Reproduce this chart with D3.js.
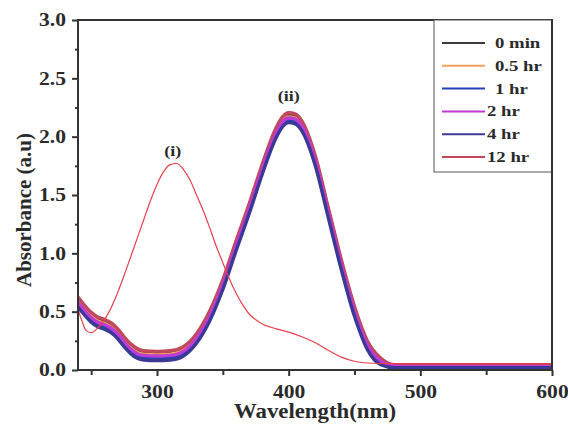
<!DOCTYPE html>
<html>
<head>
<meta charset="utf-8">
<script src="https://cdn.jsdelivr.net/npm/d3@7"></script>
<style>
  body { margin: 0; background: #fff; }
  svg text { font-family: "Liberation Serif", "Times New Roman", serif; font-weight: bold; fill: #2a2a2a; }
</style>
</head>
<body>
<svg id="chart" width="568" height="424"></svg>
<script>
// spectrum (i): thin red curve
const wlA = [240,243,246,250,255,260,265,270,275,280,285,290,295,300,305,310,315,320,325,330,335,340,345,350,355,360,365,370,375,380,390,400,410,420,430,440,450,460,480,600];
const curveA = [0.52,0.42,0.34,0.32,0.36,0.43,0.53,0.66,0.81,0.97,1.13,1.29,1.45,1.59,1.70,1.76,1.77,1.72,1.63,1.50,1.37,1.22,1.06,0.92,0.78,0.66,0.56,0.48,0.43,0.395,0.355,0.325,0.285,0.235,0.17,0.11,0.075,0.06,0.055,0.055];

// spectra (ii): time series
const wlB = [240,245,250,255,260,265,270,275,280,285,290,300,310,320,330,340,350,360,370,380,390,395,400,405,410,420,430,440,450,460,470,480,490,600];
const s0min = [0.61,0.54,0.48,0.44,0.42,0.39,0.34,0.27,0.21,0.165,0.15,0.145,0.15,0.185,0.295,0.485,0.755,1.085,1.405,1.745,2.045,2.145,2.185,2.175,2.115,1.825,1.375,0.925,0.525,0.235,0.095,0.04,0.035,0.035];
const s05hr = [0.59,0.52,0.46,0.42,0.40,0.37,0.32,0.25,0.19,0.15,0.135,0.13,0.135,0.17,0.28,0.47,0.74,1.07,1.39,1.73,2.03,2.13,2.17,2.16,2.10,1.81,1.36,0.91,0.51,0.22,0.085,0.04,0.035,0.035];
const s1hr = [0.56,0.49,0.43,0.39,0.37,0.34,0.29,0.22,0.16,0.12,0.105,0.10,0.105,0.14,0.25,0.44,0.71,1.04,1.36,1.70,2.00,2.10,2.14,2.13,2.07,1.78,1.33,0.88,0.48,0.19,0.06,0.025,0.02,0.02];
const s2hr = [0.58,0.51,0.45,0.41,0.39,0.36,0.31,0.24,0.18,0.14,0.125,0.12,0.125,0.16,0.27,0.46,0.73,1.06,1.38,1.72,2.02,2.12,2.16,2.15,2.09,1.80,1.35,0.90,0.50,0.21,0.075,0.035,0.03,0.03];
const s4hr = [0.54,0.47,0.41,0.37,0.35,0.32,0.27,0.20,0.14,0.10,0.085,0.08,0.085,0.12,0.23,0.42,0.69,1.02,1.34,1.68,1.98,2.08,2.12,2.11,2.05,1.76,1.31,0.86,0.46,0.17,0.045,0.02,0.02,0.02];
const s12hr = [0.625,0.555,0.495,0.455,0.435,0.405,0.355,0.285,0.225,0.185,0.165,0.16,0.165,0.20,0.31,0.505,0.775,1.105,1.425,1.765,2.065,2.165,2.205,2.195,2.135,1.845,1.395,0.945,0.545,0.245,0.10,0.045,0.04,0.04];

const seriesNames = ["0 min", "0.5 hr", "1 hr", "2 hr", "4 hr", "12 hr"];
const seriesValues = [s0min, s05hr, s1hr, s2hr, s4hr, s12hr];
const seriesColors = ["#3c3c3c", "#f3a25a", "#2442b8", "#c03ad6", "#3a3a96", "#c04a5a"];
const drawOrder = [0, 1, 2, 5, 3, 4];

const xMajor = [300, 400, 500, 600];
const xMinor = [250, 350, 450, 550];
const yMajor = [0, 0.5, 1.0, 1.5, 2.0, 2.5, 3.0];
const yMinor = [0.25, 0.75, 1.25, 1.75, 2.25, 2.75];

const svg = d3.select("#chart");
const pLeft = 78, pRight = 552, pTop = 20, pBottom = 370;
const sx = 1.2; // glyphs in the source are wide

const x = d3.scaleLinear().domain([240, 600]).range([pLeft, pRight]);
const y = d3.scaleLinear().domain([0, 3]).range([pBottom, pTop]);

svg.append("rect").attr("width", 568).attr("height", 424).attr("fill", "#fff");

svg.append("clipPath").attr("id", "clip")
  .append("rect").attr("x", pLeft).attr("y", pTop).attr("width", pRight - pLeft).attr("height", pBottom - pTop);

const plot = svg.append("g").attr("clip-path", "url(#clip)");

const line = d3.line()
  .x(d => x(d[0]))
  .y(d => y(d[1]))
  .curve(d3.curveMonotoneX);

drawOrder.forEach(i => {
  plot.append("path")
    .datum(wlB.map((w, k) => [w, seriesValues[i][k]]))
    .attr("fill", "none")
    .attr("stroke", seriesColors[i])
    .attr("stroke-width", 3.4)
    .attr("d", line);
});

plot.append("path")
  .datum(wlA.map((w, k) => [w, curveA[k]]))
  .attr("fill", "none")
  .attr("stroke", "#e8404a")
  .attr("stroke-width", 1.2)
  .attr("d", line);

// axes
const xAxis = svg.append("g").attr("transform", `translate(0,${pBottom})`)
  .call(d3.axisBottom(x).tickValues(xMajor).tickSize(6).tickPadding(9).tickFormat(d3.format("d")));
svg.append("g").attr("transform", `translate(0,${pBottom})`)
  .call(d3.axisBottom(x).tickValues(xMinor).tickSize(5).tickFormat(""));
const yAxis = svg.append("g").attr("transform", `translate(${pLeft},0)`)
  .call(d3.axisLeft(y).tickValues(yMajor).tickSize(6).tickPadding(6).tickFormat(d3.format(".1f")));
svg.append("g").attr("transform", `translate(${pLeft},0)`)
  .call(d3.axisLeft(y).tickValues(yMinor).tickSize(3).tickFormat(""));

svg.selectAll(".domain").remove();
svg.selectAll(".tick line").attr("stroke", "#333").attr("stroke-width", 2);
xAxis.selectAll("text").style("font-size", "18px").attr("fill", "#2a2a2a")
  .attr("transform", `scale(${sx},1)`);
yAxis.selectAll("text").style("font-size", "18px").attr("fill", "#2a2a2a")
  .attr("x", -12 / sx).attr("transform", `scale(${sx},1)`);

// frame
svg.append("rect")
  .attr("x", pLeft).attr("y", pTop).attr("width", pRight - pLeft).attr("height", pBottom - pTop)
  .attr("fill", "none").attr("stroke", "#333").attr("stroke-width", 2);

// axis titles
svg.append("text")
  .attr("transform", `translate(${(pLeft + pRight) / 2},418) scale(1.14,1)`)
  .attr("text-anchor", "middle").style("font-size", "20px")
  .text("Wavelength(nm)");
svg.append("text")
  .attr("transform", "translate(31,210) rotate(-90)")
  .attr("text-anchor", "middle").style("font-size", "21px")
  .text("Absorbance (a.u)");

// peak labels
svg.append("text").attr("transform", `translate(${x(312)},156) scale(${sx},1)`)
  .attr("text-anchor", "middle").style("font-size", "15px").text("(i)");
svg.append("text").attr("transform", `translate(${x(400)},101) scale(${sx},1)`)
  .attr("text-anchor", "middle").style("font-size", "15px").text("(ii)");

// legend
const legend = svg.append("g");
legend.append("rect")
  .attr("x", 434).attr("y", pTop).attr("width", pRight - 434).attr("height", 152)
  .attr("fill", "#fff").attr("stroke", "#555").attr("stroke-width", 1);
seriesNames.forEach((name, i) => {
  const ly = 43 + i * 22.8;
  legend.append("line")
    .attr("x1", 442).attr("x2", 485).attr("y1", ly).attr("y2", ly)
    .attr("stroke", seriesColors[i]).attr("stroke-width", 2);
  legend.append("text")
    .attr("transform", `translate(${i < 3 ? 495 : 487},${ly + 5}) scale(1.25,1)`)
    .style("font-size", "15px")
    .text(name);
});
// redraw right edge over legend box
svg.append("line").attr("x1", pRight).attr("x2", pRight).attr("y1", pTop - 1).attr("y2", pBottom + 1)
  .attr("stroke", "#333").attr("stroke-width", 2);
</script>
</body>
</html>
